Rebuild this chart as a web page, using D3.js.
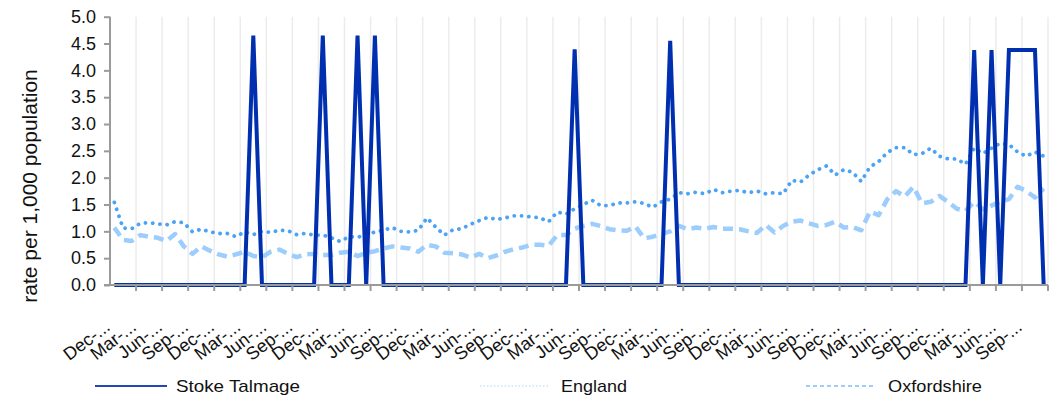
<!DOCTYPE html>
<html>
<head>
<meta charset="utf-8">
<script src="https://cdn.jsdelivr.net/npm/d3@7"></script>
<style>
html,body{margin:0;padding:0;background:#fff;}
svg text{font-family:"Liberation Sans",Arial,sans-serif;fill:#111;}
</style>
</head>
<body>
<svg id="chart" width="1056" height="397"></svg>
<script>
// ---- data ----
const tickLabels = [
 "Dec-...","Mar-...","Jun-...","Sep-...","Dec-...","Mar-...","Jun-...","Sep-...","Dec-...",
 "Mar-...","Jun-...","Sep-...","Dec-...","Mar-...","Jun-...","Sep-...","Dec-...","Mar-...",
 "Jun-...","Sep-...","Dec-...","Mar-...","Jun-...","Sep-...","Dec-...","Mar-...","Jun-...",
 "Sep-...","Dec-...","Mar-...","Jun-...","Sep-...","Dec-...","Mar-...","Jun-...","Sep-..."
];
const stokeTalmage = [
 0,0,0,0,0,0,0,0,0,0, 0,0,0,0,0,0,4.65,0,0,0, 0,0,0,0,4.65,0,0,0,4.65,0,
 4.65,0,0,0,0,0,0,0,0,0, 0,0,0,0,0,0,0,0,0,0, 0,0,0,4.39,0,0,0,0,0,0,
 0,0,0,0,4.55,0,0,0,0,0, 0,0,0,0,0,0,0,0,0,0, 0,0,0,0,0,0,0,0,0,0,
 0,0,0,0,0,0,0,0,0,4.38, 0,4.38,0,4.38,4.38,4.38,4.38,0
];
const england = [
 1.54,1.06,1.05,1.15,1.16,1.14,1.12,1.18,1.16,0.99, 1.04,0.99,0.96,0.96,0.90,0.99,0.94,1.00,0.98,1.02,
 1.01,0.94,0.96,0.93,0.93,0.88,0.81,0.90,0.89,0.93, 0.99,1.02,1.07,1.00,0.99,1.02,1.25,1.08,0.93,1.03,
 1.05,1.13,1.20,1.26,1.22,1.25,1.29,1.29,1.27,1.25, 1.18,1.36,1.32,1.42,1.50,1.58,1.48,1.48,1.53,1.53,
 1.55,1.52,1.45,1.55,1.60,1.72,1.70,1.73,1.70,1.78, 1.72,1.75,1.76,1.72,1.75,1.70,1.72,1.70,1.95,1.92,
 2.05,2.15,2.22,2.05,2.15,2.10,1.93,2.20,2.30,2.47, 2.56,2.56,2.43,2.45,2.55,2.40,2.35,2.35,2.25,2.55,
 2.45,2.55,2.64,2.62,2.48,2.40,2.48,2.40
];
const oxfordshire = [
 1.07,0.84,0.82,0.93,0.90,0.88,0.82,0.95,0.72,0.58, 0.72,0.64,0.57,0.53,0.57,0.62,0.54,0.52,0.62,0.66,
 0.58,0.52,0.57,0.58,0.56,0.56,0.60,0.62,0.54,0.60, 0.63,0.68,0.72,0.70,0.68,0.62,0.75,0.72,0.60,0.59,
 0.57,0.51,0.58,0.50,0.55,0.62,0.67,0.70,0.75,0.75, 0.73,0.93,0.93,1.05,1.10,1.14,1.10,1.04,1.02,1.01,
 1.09,0.87,0.90,0.95,1.00,1.10,1.04,1.07,1.05,1.08, 1.05,1.05,1.04,1.00,0.97,1.12,0.98,1.10,1.18,1.20,
 1.15,1.10,1.12,1.18,1.07,1.08,1.02,1.37,1.30,1.60, 1.75,1.65,1.83,1.52,1.55,1.66,1.55,1.42,1.38,1.55,
 1.41,1.48,1.55,1.60,1.83,1.75,1.63,1.80
];
const yTicks = [0,0.5,1,1.5,2,2.5,3,3.5,4,4.5,5];
const seriesNames = ["Stoke Talmage","England","Oxfordshire"];
const yTitle = "rate per 1,000 population";

// ---- layout ----
const svg = d3.select("#chart");
const L = 110, R = 1048, T = 16.7, B = 285;
const idx = d3.range(stokeTalmage.length);
const x = d3.scaleBand().domain(idx).range([L, R]).padding(0);
const y = d3.scaleLinear().domain([0, 5]).range([B, T]);
const cx = i => x(i) + x.bandwidth() / 2;
const tickIdx = idx.filter(i => i % 3 === 0);
const edgeX = i => i === idx.length ? R : x(i);

// vertical gridlines at every 3rd category boundary
svg.append("g").selectAll("line").data(tickIdx.slice(1).concat([idx.length]))
  .join("line")
  .attr("x1", edgeX).attr("x2", edgeX)
  .attr("y1", T).attr("y2", B)
  .attr("stroke", "#ececec").attr("stroke-width", 1.5);

const line = d3.line().x((d, i) => cx(i)).y(d => y(d));

svg.append("path").datum(oxfordshire).attr("d", line)
  .attr("fill", "none").attr("stroke", "#9dcdfd").attr("stroke-width", 4.5)
  .attr("stroke-dasharray", "10 6").attr("stroke-linejoin", "round");
svg.append("path").datum(england).attr("d", line)
  .attr("fill", "none").attr("stroke", "#4aa3f5").attr("stroke-width", 3.8)
  .attr("stroke-dasharray", "0.1 7.2").attr("stroke-linecap", "round");
svg.append("path").datum(stokeTalmage).attr("d", line)
  .attr("fill", "none").attr("stroke", "#0030b0").attr("stroke-width", 4)
  .attr("stroke-linejoin", "miter");

// x axis
const xAxis = svg.append("g").attr("transform", `translate(0,${B})`);
xAxis.append("line").attr("x1", L - 6).attr("x2", R).attr("y1", 0).attr("y2", 0)
  .attr("stroke", "#9a9a9a").attr("stroke-width", 2);
xAxis.selectAll("line.tk").data(tickIdx.slice(1).concat([idx.length])).join("line").attr("class", "tk")
  .attr("x1", edgeX).attr("x2", edgeX)
  .attr("y1", 0).attr("y2", 6).attr("stroke", "#9a9a9a").attr("stroke-width", 2);
xAxis.selectAll("text").data(tickIdx).join("text")
  .attr("transform", i => `translate(${cx(i) - 3},${44}) rotate(-37.5)`)
  .attr("text-anchor", "end")
  .attr("font-size", 18)
  .text((i, k) => tickLabels[k]);

// y axis
const yAxis = svg.append("g").attr("transform", `translate(${L},0)`)
  .call(d3.axisLeft(y).tickValues(yTicks).tickFormat(d3.format(".1f")).tickSize(6).tickPadding(8));
yAxis.select(".domain").attr("stroke", "#9a9a9a").attr("stroke-width", 2).attr("d", `M0,${B}V${T}`);
yAxis.selectAll(".tick line").attr("stroke", "#9a9a9a").attr("stroke-width", 2);
yAxis.selectAll(".tick text").attr("font-size", 18).attr("font-family", "Liberation Sans, Arial, sans-serif").attr("fill", "#111");

svg.append("text").attr("transform", "translate(37,186) rotate(-90)")
  .attr("text-anchor", "middle").attr("font-size", 21).text(yTitle);

// legend
const legend = [
  {name: seriesNames[0], x1: 95, x2: 167, tx: 176, len: 124, stroke: "#2446b8", w: 2, dash: null},
  {name: seriesNames[1], x1: 480, x2: 548, tx: 561, len: 66, stroke: "#c5e2fb", w: 1.5, dash: "1.5 2"},
  {name: seriesNames[2], x1: 806, x2: 875, tx: 888, len: 94, stroke: "#9dcdfd", w: 2, dash: "4 3"}
];
const lg = svg.append("g").selectAll("g").data(legend).join("g");
lg.append("line").attr("x1", d => d.x1).attr("x2", d => d.x2).attr("y1", 386).attr("y2", 386)
  .attr("stroke", d => d.stroke).attr("stroke-width", d => d.w).attr("stroke-dasharray", d => d.dash);
lg.append("text").attr("x", d => d.tx).attr("y", 392).attr("font-size", 17)
  .attr("textLength", d => d.len).attr("lengthAdjust", "spacingAndGlyphs").text(d => d.name);
</script>
</body>
</html>
